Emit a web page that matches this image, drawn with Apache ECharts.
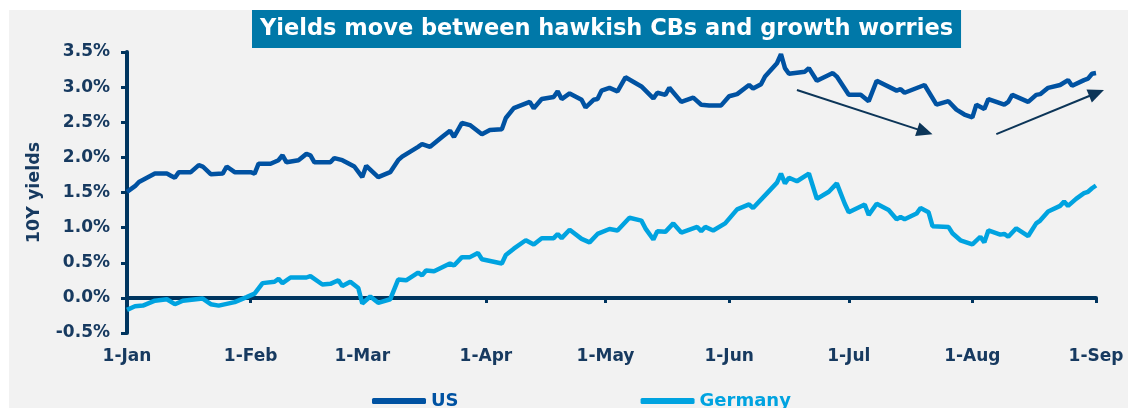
<!DOCTYPE html>
<html>
<head>
<meta charset="utf-8">
<script src="https://cdn.jsdelivr.net/npm/echarts@6/dist/echarts.min.js"></script>
<style>
  html, body { margin: 0; padding: 0; background: #ffffff; }
  #main { width: 1128px; height: 408px; }
</style>
</head>
<body>
<div id="main"></div>
<script>
var monthNames = ["Jan", "Feb", "Mar", "Apr", "May", "Jun", "Jul", "Aug", "Sep", "Oct", "Nov", "Dec"];
var yTicks = [-0.5, 0, 0.5, 1, 1.5, 2, 2.5, 3, 3.5];

// US 10Y yield (%), 2022
var usDates = ["01-01","01-03","01-04","01-06","01-08","01-11","01-12","01-13","01-14","01-17","01-19","01-20","01-22","01-25","01-26","01-28",
  "02-01","02-02","02-03","02-06","02-08","02-09","02-10","02-13","02-15","02-16","02-17","02-21","02-22","02-24","02-27",
  "03-01","03-02","03-05","03-08","03-10","03-11","03-15","03-16","03-18","03-21","03-23","03-24","03-26","03-28","03-31",
  "04-02","04-05","04-06","04-08","04-12","04-13","04-15","04-18","04-19","04-20","04-22","04-25","04-26","04-28","04-29","04-30",
  "05-02","05-04","05-06","05-10","05-13","05-14","05-16","05-17","05-20","05-23","05-25","05-27","05-30",
  "06-01","06-03","06-06","06-07","06-09","06-10","06-13","06-14","06-15","06-16","06-20","06-21","06-23","06-27","06-28",
  "07-01","07-04","07-06","07-08","07-13","07-14","07-15","07-20","07-23","07-26","07-28","07-30",
  "08-01","08-02","08-04","08-05","08-09","08-10","08-11","08-15","08-17","08-18","08-20","08-23","08-25","08-26","08-29","08-30","08-31","09-01"];
var usYield = [1.51,1.59,1.65,1.71,1.77,1.77,1.74,1.71,1.79,1.79,1.89,1.87,1.76,1.77,1.87,1.79,
  1.79,1.77,1.91,1.91,1.96,2.03,1.93,1.96,2.05,2.03,1.93,1.93,1.99,1.96,1.87,
  1.72,1.88,1.72,1.79,1.96,2.01,2.15,2.19,2.15,2.29,2.38,2.29,2.49,2.46,2.33,
  2.39,2.40,2.56,2.70,2.79,2.70,2.83,2.86,2.94,2.83,2.91,2.82,2.71,2.82,2.83,2.95,
  2.99,2.94,3.14,3.01,2.84,2.92,2.89,2.99,2.79,2.85,2.75,2.74,2.74,
  2.87,2.90,3.03,2.98,3.04,3.15,3.34,3.47,3.27,3.19,3.22,3.27,3.09,3.20,3.15,
  2.89,2.89,2.80,3.09,2.95,2.97,2.92,3.03,2.75,2.80,2.68,2.61,
  2.57,2.75,2.69,2.83,2.75,2.79,2.89,2.79,2.89,2.90,2.99,3.03,3.10,3.02,3.10,3.12,3.19,3.20];

// German 10Y yield (%), 2022
var deDates = ["01-01","01-03","01-05","01-08","01-11","01-13","01-15","01-20","01-22","01-24","01-28","01-31",
  "02-02","02-04","02-07","02-08","02-09","02-11","02-15","02-16","02-19","02-21","02-23","02-24","02-26","02-28",
  "03-01","03-03","03-05","03-08","03-10","03-12","03-15","03-16","03-17","03-19","03-23","03-24","03-26","03-28","03-30","03-31",
  "04-05","04-06","04-08","04-11","04-13","04-15","04-18","04-19","04-20","04-22","04-25","04-27","04-29",
  "05-02","05-04","05-07","05-10","05-11","05-13","05-14","05-16","05-18","05-20","05-24","05-25","05-26","05-28","05-31",
  "06-03","06-06","06-07","06-11","06-13","06-14","06-15","06-16","06-18","06-21","06-23","06-26","06-28","06-30",
  "07-01","07-05","07-06","07-08","07-11","07-13","07-14","07-15","07-18","07-19","07-21","07-22","07-26","07-27","07-29",
  "08-01","08-03","08-04","08-05","08-08","08-09","08-10","08-12","08-15","08-17","08-18","08-20","08-23","08-24","08-25","08-27","08-29","08-30","08-31","09-01"];
var deYield = [-0.17,-0.12,-0.11,-0.04,-0.02,-0.09,-0.04,-0.01,-0.09,-0.11,-0.06,0.01,
  0.06,0.21,0.23,0.27,0.21,0.29,0.29,0.31,0.19,0.20,0.25,0.17,0.23,0.14,
  -0.08,0.02,-0.07,-0.02,0.26,0.25,0.36,0.32,0.39,0.38,0.49,0.46,0.58,0.58,0.64,0.55,
  0.49,0.61,0.70,0.82,0.76,0.85,0.85,0.91,0.85,0.97,0.84,0.79,0.91,
  0.98,0.96,1.14,1.10,0.99,0.83,0.95,0.94,1.06,0.93,1.01,0.95,1.01,0.96,1.06,
  1.26,1.33,1.28,1.52,1.64,1.77,1.63,1.71,1.66,1.77,1.41,1.51,1.63,1.34,
  1.22,1.33,1.18,1.34,1.25,1.12,1.15,1.12,1.20,1.28,1.22,1.02,1.01,0.92,0.82,
  0.76,0.87,0.79,0.96,0.90,0.91,0.87,0.99,0.88,1.06,1.10,1.23,1.31,1.37,1.31,1.41,1.49,1.51,1.56,1.60];

// annotation arrows, [day index from 1-Jan, yield]
var arrowDown = [[168.2, 2.96], [201.9, 2.33]];
var arrowUp = [[217.8, 2.33], [244.8, 2.96]];

// every calendar day 1-Jan .. 1-Sep as category axis
var days = [];
for (var t = Date.UTC(2022, 0, 1); t <= Date.UTC(2022, 8, 1); t += 86400000) {
  var d = new Date(t);
  days.push(("0" + (d.getUTCMonth() + 1)).slice(-2) + "-" + ("0" + d.getUTCDate()).slice(-2));
}

function pairs(dates, vals) {
  return dates.map(function (k, i) { return [k, vals[i]]; });
}
function isMonthStart(index, value) {
  return value.slice(3) === "01";
}

var navy = "#00355f";
var labelColor = "#173a60";
var font = "DejaVu Sans";

var myChart = echarts.init(document.getElementById("main"));
var option = {
  animation: false,
  graphic: [{
    type: "rect", left: 9, top: 10, z: -10, silent: true,
    shape: { width: 1119, height: 398 },
    style: { fill: "#f2f2f2" }
  }],
  title: {
    text: "Yields move between hawkish CBs and growth worries",
    left: 252, top: 10,
    padding: [6, 8, 5, 8],
    backgroundColor: "#0078a8",
    textStyle: { color: "#ffffff", fontSize: 22.5, fontWeight: "bold", fontFamily: font, lineHeight: 27 }
  },
  legend: {
    left: 367, top: 387,
    icon: "roundRect",
    itemWidth: 54, itemHeight: 6, itemGap: 182,
    textStyle: { fontSize: 18, fontWeight: "bold", fontFamily: font },
    data: [
      { name: "US", textStyle: { color: "#0052a2" } },
      { name: "Germany", textStyle: { color: "#00a3e0" } }
    ]
  },
  grid: { left: 127, right: 32, top: 52, bottom: 75 },
  xAxis: [{
    type: "category",
    data: days,
    boundaryGap: false,
    position: "bottom",
    axisLine: { show: false, onZero: false },
    axisTick: { show: false },
    axisLabel: {
      interval: isMonthStart,
      margin: 15,
      color: labelColor, fontSize: 17, fontWeight: "bold", fontFamily: font,
      formatter: function (v) { return "1-" + monthNames[parseInt(v.slice(0, 2), 10) - 1]; }
    }
  }, {
    type: "category",
    data: days,
    boundaryGap: false,
    position: "bottom",
    axisLine: { onZero: true, lineStyle: { color: navy, width: 4 } },
    axisTick: { interval: isMonthStart, length: 5, lineStyle: { color: navy, width: 3 } },
    axisLabel: { show: false }
  }],
  yAxis: {
    type: "value",
    min: yTicks[0], max: yTicks[yTicks.length - 1], interval: 0.5,
    name: "10Y yields",
    nameLocation: "middle",
    nameGap: 84,
    nameTextStyle: { color: labelColor, fontSize: 17.5, fontWeight: "bold", fontFamily: font },
    axisLine: { show: true, lineStyle: { color: navy, width: 4 } },
    axisTick: { show: true, length: 6, lineStyle: { color: navy, width: 3 } },
    splitLine: { show: false },
    axisLabel: {
      margin: 17,
      color: labelColor, fontSize: 17, fontWeight: "bold", fontFamily: font,
      formatter: function (v) { return v.toFixed(1) + "%"; }
    }
  },
  series: [{
    name: "US",
    type: "line",
    symbol: "none",
    color: "#0052a2",
    lineStyle: { width: 4.5, color: "#0052a2" },
    data: pairs(usDates, usYield)
  }, {
    name: "Germany",
    type: "line",
    symbol: "none",
    color: "#00a3e0",
    lineStyle: { width: 4.5, color: "#00a3e0" },
    data: pairs(deDates, deYield)
  }]
};
myChart.setOption(option);

// arrows drawn through the chart's own coordinate system
function arrow(pts) {
  var a = myChart.convertToPixel({ gridIndex: 0 }, pts[0]);
  var b = myChart.convertToPixel({ gridIndex: 0 }, pts[1]);
  var dx = b[0] - a[0], dy = b[1] - a[1];
  var len = Math.sqrt(dx * dx + dy * dy);
  var ux = dx / len, uy = dy / len;
  var hl = 16, hw = 7;
  var bx = b[0] - ux * hl, by = b[1] - uy * hl;
  return [{
    type: "line", silent: true, z: 50,
    shape: { x1: a[0], y1: a[1], x2: bx + ux * 2, y2: by + uy * 2 },
    style: { stroke: "#0c3558", lineWidth: 2 }
  }, {
    type: "polygon", silent: true, z: 50,
    shape: { points: [b, [bx - uy * hw, by + ux * hw], [bx + uy * hw, by - ux * hw]] },
    style: { fill: "#0c3558" }
  }];
}
myChart.setOption({ graphic: option.graphic.concat(arrow(arrowDown), arrow(arrowUp)) });
</script>
</body>
</html>
